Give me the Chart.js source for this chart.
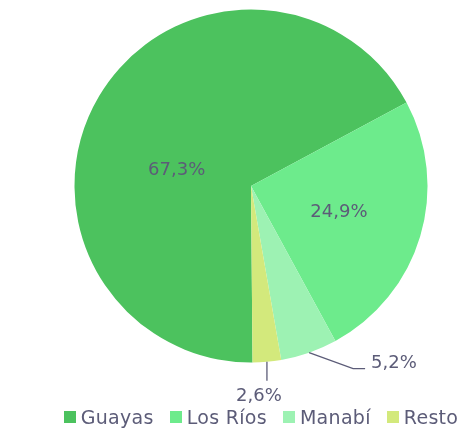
<!DOCTYPE html>
<html>
<head>
<meta charset="utf-8">
<script src="https://cdn.jsdelivr.net/npm/chart.js@4/dist/chart.umd.min.js"></script>
<style>
  html, body { margin: 0; padding: 0; background: #fff; }
  #wrap { position: relative; width: 461px; height: 435px; }
  #legende {
    position: absolute; left: 0; width: 522px; top: 405px;
    display: flex; justify-content: center; gap: 16px;
    font: 19px 'DejaVu Sans', sans-serif; color: #5c5c78; line-height: 24px;
    letter-spacing: 0.3px;
  }
  #legende span.item { display: flex; align-items: center; white-space: nowrap; }
  #legende span.boite { display: inline-block; width: 12px; height: 12px; margin-right: 5px; }
</style>
</head>
<body>
<div id="wrap">
  <canvas id="graphique"></canvas>
  <div id="legende"></div>
</div>
<script>
// donnees du graphique
let provincias = ["Guayas", "Los Ríos", "Manabí", "Resto"];
let porcentajes = [67.3, 24.9, 5.2, 2.6];
let colores = ["#4cc25e", "#6deb8c", "#9df2b3", "#d3e97c"];

let couleurTexte = "#5c5c78";
let police = "'DejaVu Sans', sans-serif";

// placement des etiquettes : dedans ou dehors avec un trait
let placement = [
    { mode: "in", frac: 0.43, decal: -19 },
    { mode: "in", frac: 0.52, decal: 0 },
    { mode: "out", coude: [44, 16], fin: 12, texte: "droite" },
    { mode: "out", coude: [0, 19], fin: 0, texte: "dessous" }
];

function formatPct(v) {
    return v.toFixed(1).replace(".", ",") + "%";
}

let etiquettes = {
    id: "etiquettes",
    afterDatasetsDraw(chart) {
        let ctx = chart.ctx;
        let arcs = chart.getDatasetMeta(0).data;
        ctx.save();
        ctx.font = "18px " + police;
        ctx.fillStyle = couleurTexte;
        ctx.strokeStyle = couleurTexte;
        ctx.lineWidth = 1.3;
        arcs.forEach(function (arc, i) {
            let p = arc.getProps(["x", "y", "startAngle", "endAngle", "outerRadius"], true);
            let mid = (p.startAngle + p.endAngle) / 2;
            let txt = formatPct(porcentajes[i]);
            let pl = placement[i];
            if (pl.mode === "in") {
                let a = mid + pl.decal * Math.PI / 180;
                let d = p.outerRadius * pl.frac;
                ctx.textAlign = "center";
                ctx.textBaseline = "middle";
                ctx.fillText(txt, p.x + Math.cos(a) * d, p.y + Math.sin(a) * d);
            } else {
                let x0 = p.x + Math.cos(mid) * p.outerRadius;
                let y0 = p.y + Math.sin(mid) * p.outerRadius;
                let x1 = x0 + pl.coude[0];
                let y1 = y0 + pl.coude[1];
                let x2 = x1 + pl.fin;
                ctx.beginPath();
                ctx.moveTo(x0, y0);
                ctx.lineTo(x1, y1);
                ctx.lineTo(x2, y1);
                ctx.stroke();
                ctx.textBaseline = "alphabetic";
                if (pl.texte === "droite") {
                    ctx.textAlign = "left";
                    ctx.fillText(txt, x2 + 6, y1 - 1);
                } else {
                    ctx.textAlign = "center";
                    ctx.fillText(txt, x2 - 8, y1 + 20);
                }
            }
        });
        ctx.restore();
    }
};

let ctx = document.getElementById("graphique").getContext("2d");
let chart = new Chart(ctx, {
    type: "pie",
    data: {
        labels: provincias,
        datasets: [
            {
                data: porcentajes,
                backgroundColor: colores,
                borderWidth: 0,
                radius: 176.5
            }
        ]
    },
    options: {
        responsive: true,
        maintainAspectRatio: false,
        animation: false,
        rotation: 179.5,
        layout: {
            padding: { left: 41, right: 0, top: 0, bottom: 63 }
        },
        plugins: {
            legend: { display: false },
            tooltip: { enabled: false }
        }
    },
    plugins: [etiquettes]
});

// legende html construite a partir des items de Chart.js
function $(sel) { return document.querySelector(sel); }
let legende = $("#legende");
chart.options.plugins.legend.labels.generateLabels(chart).forEach(function (item) {
    let span = document.createElement("span");
    span.className = "item";
    let boite = document.createElement("span");
    boite.className = "boite";
    boite.style.background = item.fillStyle;
    span.appendChild(boite);
    span.appendChild(document.createTextNode(item.text));
    legende.appendChild(span);
});
</script>
</body>
</html>
